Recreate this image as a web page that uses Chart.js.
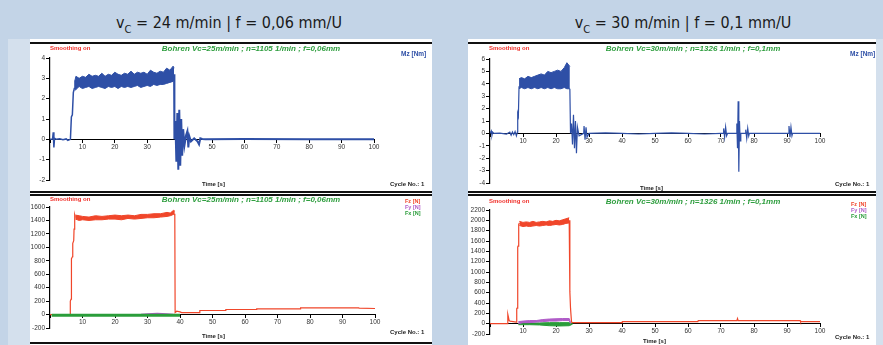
<!DOCTYPE html>
<html>
<head>
<meta charset="utf-8">
<script src="https://cdn.jsdelivr.net/npm/chart.js@4.4.1/dist/chart.umd.min.js"></script>
<style>
    body { margin: 0; width: 883px; height: 345px; background: #c3d4e7; position: relative; overflow: hidden; font-family: Arial, "Liberation Sans", sans-serif; }
    .strip { position: absolute; background: #d4e0ed; }
    .panel { position: absolute; background: #fff; }
    .rule { position: absolute; background: #111; height: 1.5px; }
    .hd { position: absolute; font-family: "Liberation Sans Narrow", "DejaVu Sans Condensed", sans-serif; font-size: 16px; color: #1a1a1a; white-space: nowrap; text-align: center; line-height: 1; }
    .hd sub { font-size: 11px; vertical-align: -5px; }
    .t { position: absolute; white-space: nowrap; font-weight: bold; line-height: 1; }
    .ttl { color: #2f9e3f; font-style: italic; font-size: 8px; text-align: center; }
    .sm { color: #f0302a; font-size: 6px; }
    .mz { color: #2e4fa6; font-size: 6.5px; }
    .ax { color: #222; font-size: 6px; }
    canvas { position: absolute; }
</style>
</head>
<body>
<div class="strip" style="left:8px;top:39px;width:22px;height:306px"></div>
<div class="strip" style="left:876px;top:39px;width:7px;height:306px"></div>
<div class="panel" style="left:30px;top:39px;width:402px;height:306px"></div>
<div class="panel" style="left:468px;top:39px;width:408px;height:306px"></div>

<div class="rule" style="left:30px;top:42px;width:402px"></div>
<div class="rule" style="left:30px;top:191px;width:402px"></div>
<div class="rule" style="left:30px;top:194px;width:402px"></div>
<div class="rule" style="left:30px;top:342px;width:402px"></div>
<div class="rule" style="left:468px;top:42px;width:408px"></div>
<div class="rule" style="left:468px;top:191px;width:408px"></div>
<div class="rule" style="left:468px;top:194px;width:408px"></div>

<div class="hd" style="left:79px;top:15px;width:300px">v<sub>C</sub> = 24 m/min | f = 0,06 mm/U</div>
<div class="hd" style="left:533px;top:15px;width:300px">v<sub>C</sub> = 30 m/min | f = 0,1 mm/U</div>

<canvas id="mzA" width="402" height="148" style="left:30px;top:44px"></canvas>
<canvas id="mzB" width="408" height="148" style="left:468px;top:44px"></canvas>
<canvas id="fA" width="402" height="147" style="left:30px;top:196px"></canvas>
<canvas id="fB" width="408" height="149" style="left:468px;top:196px"></canvas>

<!-- top left labels -->
<div class="t sm" style="left:50px;top:45px">Smoothing on</div>
<div class="t ttl" style="left:131px;top:45px;width:240px">Bohren Vc=25m/min ; n=1105 1/min ; f=0,06mm</div>
<div class="t mz" style="left:401px;top:51px">Mz [Nm]</div>
<div class="t ax" style="left:202px;top:181px">Time [s]</div>
<div class="t ax" style="left:390px;top:181px">Cycle No.: 1</div>
<!-- top right labels -->
<div class="t sm" style="left:489px;top:45px">Smoothing on</div>
<div class="t ttl" style="left:573px;top:45px;width:240px">Bohren Vc=30m/min ; n=1326 1/min ; f=0,1mm</div>
<div class="t mz" style="left:850px;top:51px">Mz [Nm]</div>
<div class="t ax" style="left:640px;top:185px">Time [s]</div>
<div class="t ax" style="left:835px;top:181px">Cycle No.: 1</div>
<!-- bottom left labels -->
<div class="t sm" style="left:50px;top:196px">Smoothing on</div>
<div class="t ttl" style="left:131px;top:196px;width:240px">Bohren Vc=25m/min ; n=1105 1/min ; f=0,06mm</div>
<div class="t" style="left:405px;top:199px;font-size:5.5px;color:#f0462a">Fz [N]</div>
<div class="t" style="left:405px;top:205px;font-size:5.5px;color:#b05cc8">Fy [N]</div>
<div class="t" style="left:405px;top:211px;font-size:5.5px;color:#2a9d3a">Fx [N]</div>
<div class="t ax" style="left:202px;top:333px">Time [s]</div>
<div class="t ax" style="left:390px;top:329px">Cycle No.: 1</div>
<!-- bottom right labels -->
<div class="t sm" style="left:489px;top:198px">Smoothing on</div>
<div class="t ttl" style="left:573px;top:198px;width:240px">Bohren Vc=30m/min ; n=1326 1/min ; f=0,1mm</div>
<div class="t" style="left:851px;top:202px;font-size:5.5px;color:#f0462a">Fz [N]</div>
<div class="t" style="left:851px;top:208px;font-size:5.5px;color:#b05cc8">Fy [N]</div>
<div class="t" style="left:851px;top:214px;font-size:5.5px;color:#2a9d3a">Fx [N]</div>
<div class="t ax" style="left:643px;top:338px">Time [s]</div>
<div class="t ax" style="left:835px;top:334px">Cycle No.: 1</div>

<script>
// ---- Mz, vc = 24 m/min (top left) ----
const mzA_preT  = [0, 0.8, 1.0, 1.2, 1.4, 2, 3, 4, 5, 5.5, 6.3, 6.6, 6.9, 7.2, 7.5, 7.7];
const mzA_preV  = [0, 0.02, 0.35, -0.4, 0.05, 0, 0.03, -0.02, 0.02, -0.05, 0, 1.1, 1.2, 2.3, 2.5, 2.9];
const mzA_bandT = [7.7, 8, 9, 10, 11, 12, 13, 14, 15, 16, 17, 18, 19, 20, 21, 22, 23, 24, 25, 26, 27, 28, 29, 30, 31, 32, 33, 34, 35, 36, 37, 38, 38.3];
const mzA_hi    = [2.9, 3.1, 3.0, 3.1, 3.05, 3.2, 3.1, 3.15, 3.1, 3.25, 3.1, 3.2, 3.15, 3.3, 3.2, 3.15, 3.25, 3.2, 3.35, 3.2, 3.3, 3.25, 3.3, 3.2, 3.4, 3.3, 3.25, 3.35, 3.3, 3.5, 3.4, 3.6, 3.5];
const mzA_lo    = [2.4, 2.45, 2.6, 2.5, 2.55, 2.6, 2.5, 2.55, 2.6, 2.55, 2.5, 2.6, 2.55, 2.6, 2.5, 2.6, 2.55, 2.6, 2.55, 2.6, 2.65, 2.55, 2.6, 2.65, 2.6, 2.7, 2.65, 2.7, 2.7, 2.75, 2.8, 2.85, 2.9];
const mzA_postT = [38.3, 38.4, 38.7, 39.0, 39.3, 39.6, 39.9, 40.2, 40.5, 40.8, 41.1, 41.5, 42.0, 42.4, 42.7, 43.0, 43.5, 44.5, 45.5, 46.0, 46.4, 47, 48, 60, 80, 100];
const mzA_postV = [3.2, 0, 0.9, -1.1, 1.3, -1.5, 1.45, -1.3, 1.0, -0.8, 0.5, -0.3, 0.2, 0.4, -0.4, 0.15, -0.1, 0.05, -0.1, -0.25, 0.05, 0.02, 0, 0.02, 0, 0];

// ---- Mz, vc = 30 m/min (top right) ----
const mzB_preT  = [0, 0.4, 0.6, 0.8, 1.2, 3, 5, 6, 6.4, 6.8, 7.2, 7.6, 8.0, 8.3, 8.4, 8.6, 8.8];
const mzB_preV  = [0, 0.2, -0.15, 0.1, 0, 0.02, -0.05, 0.1, -0.15, 0.12, -0.1, 0.15, -0.2, 0.1, 1.6, 1.4, 3.8];
const mzB_bandT = [8.8, 9.5, 10.5, 11.5, 12.5, 13.5, 14.5, 15.5, 16.5, 17.5, 18.5, 19.5, 20.5, 21.5, 22.5, 23.3, 24.2];
const mzB_hi    = [4.4, 4.5, 4.4, 4.6, 4.5, 4.6, 4.7, 4.8, 4.7, 5.0, 4.9, 5.0, 5.1, 5.0, 5.3, 5.7, 5.4];
const mzB_lo    = [3.6, 3.7, 3.6, 3.7, 3.6, 3.7, 3.6, 3.7, 3.6, 3.7, 3.6, 3.7, 3.6, 3.6, 3.7, 3.6, 3.6];
const mzB_postT = [24.2, 24.4, 24.7, 25.0, 25.3, 25.6, 25.9, 26.2, 26.5, 27, 28.4, 28.5, 28.8, 29.1, 29.4, 30, 35, 40, 45, 50, 55, 60, 65, 70,
                   70.7, 70.8, 71.1, 71.4, 71.7, 72, 74.7, 74.8, 75.0, 75.2, 75.4, 75.6, 75.8, 76.0, 77.4, 77.5, 77.8, 78.1, 78.4, 78.6, 85,
                   90.5, 90.6, 90.9, 91.2, 91.5, 91.7, 100];
const mzB_postV = [3.6, 0, 0.8, -0.9, 1.5, -1.2, 1.0, -1.6, 0.5, -0.2, 0, 0.6, -0.5, 0.5, -0.3, 0, 0.05, 0, -0.05, 0, 0.05, 0, -0.05, 0,
                   0, 0.4, -0.3, 0.5, -0.2, 0, 0, 0.8, -1.2, 2.6, -3.1, 1.0, -0.6, 0, 0, 0.3, -0.4, 0.4, -0.2, 0, 0,
                   0, 0.6, -0.3, 0.5, -0.2, 0, 0];

// ---- Forces, vc = 24 m/min (bottom left) ----
const fzA_preT  = [0, 6.2, 6.25, 6.5, 6.6, 6.9, 7.0, 7.3, 7.4, 7.6, 7.8];
const fzA_preV  = [0, 0, 200, 230, 830, 860, 1060, 1100, 1270, 1480, 1440];
const fzA_bandT = [7.8, 9, 10, 12, 14, 16, 18, 20, 22, 24, 26, 28, 30, 32, 34, 36, 37, 38, 38.4];
const fzA_hi    = [1480, 1470, 1460, 1450, 1470, 1460, 1470, 1480, 1470, 1480, 1470, 1490, 1490, 1500, 1500, 1520, 1510, 1550, 1540];
const fzA_lo    = [1420, 1400, 1410, 1400, 1410, 1410, 1420, 1420, 1410, 1430, 1420, 1430, 1440, 1440, 1450, 1460, 1470, 1490, 1480];
const fzA_postT = [38.4, 38.5, 39, 40, 40.5, 46, 46.1, 54, 54.1, 63.5, 63.6, 77, 77.1, 95, 95.1, 100];
const fzA_postV = [1500, 30, 50, 40, 30, 30, 60, 60, 75, 75, 85, 85, 100, 100, 95, 90];
const fyA_t = [28, 30, 33, 36, 38];
const fyA_v = [0, 10, 15, 10, 0];
const fxA_t = [0.5, 10, 20, 30, 40];
const fxA_v = [-10, -12, -10, -12, -10];

// ---- Forces, vc = 30 m/min (bottom right) ----
const fzB_preT  = [0, 5.3, 5.4, 5.6, 5.8, 6.0, 7.0, 8.0, 8.1, 8.2, 8.4, 8.5, 8.7, 8.9];
const fzB_preV  = [0, 0, 180, 120, 60, 50, 40, 30, 290, 300, 1480, 1500, 1920, 1950];
const fzB_bandT = [8.9, 10, 11, 12, 13, 14, 15, 16, 17, 18, 19, 20, 21, 22, 23, 24];
const fzB_hi    = [1980, 1960, 1970, 1960, 1980, 1960, 1970, 1980, 1970, 1990, 1980, 2000, 1990, 2010, 2030, 2050];
const fzB_lo    = [1900, 1880, 1890, 1880, 1890, 1900, 1890, 1900, 1910, 1900, 1910, 1920, 1910, 1920, 1940, 1950];
const fzB_postT = [24, 24.2, 24.4, 24.7, 25, 30, 38, 40, 40.1, 63, 63.1, 74.8, 75, 75.2, 94, 94.1, 100];
const fzB_postV = [2000, 620, 300, 30, 20, 20, 20, 20, 40, 40, 60, 60, 100, 60, 60, 40, 40];
const fyB_bandT = [8.6, 10, 12, 14, 16, 18, 20, 22, 24, 24.4];
const fyB_hi    = [40, 50, 60, 60, 80, 90, 95, 100, 100, 20];
const fyB_lo    = [0, 20, 20, 30, 40, 50, 50, 60, 60, 0];
const fxB_bandT = [8.6, 12, 15, 18, 21, 24, 25];
const fxB_hi    = [10, 10, 15, 20, 20, 20, 0];
const fxB_lo    = [-20, -20, -25, -40, -45, -40, -10];

const BLUE = '#2e4fa6', RED = '#f0462a', PURPLE = '#b05cc8', GREEN = '#2a9d3a';

function pts(t, v) {
    return t.map((x, i) => ({ x: x, y: v[i] }));
}

function line(t, v, color, width) {
    return { data: pts(t, v), borderColor: color, borderWidth: width, pointRadius: 0, fill: false, tension: 0 };
}

// upper + lower edge of a dense noise band, filled between
function band(t, hi, lo, color) {
    return [
        { data: pts(t, hi), borderColor: color, backgroundColor: color, borderWidth: 1, pointRadius: 0, fill: '+1', tension: 0 },
        { data: pts(t, lo), borderColor: color, borderWidth: 1, pointRadius: 0, fill: false, tension: 0 }
    ];
}

function makeChart(id, datasets, yMin, yMax, yStep, yWidth, pad) {
    const tickFont = { size: 6.5, family: 'Arial, "Liberation Sans", sans-serif' };
    return new Chart(document.getElementById(id), {
        type: 'line',
        data: { datasets: datasets },
        options: {
            responsive: false,
            animation: false,
            events: [],
            layout: { padding: pad },
            plugins: { legend: { display: false }, tooltip: { enabled: false } },
            scales: {
                x: {
                    type: 'linear',
                    min: 0,
                    max: 100,
                    position: { y: 0 },
                    ticks: {
                        stepSize: 10,
                        color: '#333',
                        font: tickFont,
                        padding: 1,
                        maxRotation: 0,
                        autoSkip: false,
                        callback: v => (v === 0 ? '' : String(v))
                    },
                    grid: { drawOnChartArea: false, tickLength: 3, color: '#000' },
                    border: { color: '#000', width: 1 }
                },
                y: {
                    min: yMin,
                    max: yMax,
                    ticks: { stepSize: yStep, color: '#333', font: tickFont, padding: 1, autoSkip: false, callback: v => String(v) },
                    grid: { drawOnChartArea: false, tickLength: 4, color: '#000' },
                    border: { color: '#000', width: 1.2 },
                    afterFit: s => { s.width = yWidth; }
                }
            }
        }
    });
}

makeChart('mzA', [
    line(mzA_preT, mzA_preV, BLUE, 1.5),
    ...band(mzA_bandT, mzA_hi, mzA_lo, BLUE),
    line(mzA_postT, mzA_postV, BLUE, 2)
], -2, 4, 1, 20, { top: 14, bottom: 12, left: 0, right: 58 });

makeChart('mzB', [
    line(mzB_preT, mzB_preV, BLUE, 1.2),
    ...band(mzB_bandT, mzB_hi, mzB_lo, BLUE),
    line(mzB_postT, mzB_postV, BLUE, 1.2)
], -4, 6, 1, 22, { top: 15, bottom: 9, left: 0, right: 56 });

makeChart('fA', [
    line(fxA_t, fxA_v, GREEN, 3),
    line(fyA_t, fyA_v, PURPLE, 1.5),
    line(fzA_preT, fzA_preV, RED, 1.2),
    ...band(fzA_bandT, fzA_hi, fzA_lo, RED),
    line(fzA_postT, fzA_postV, RED, 1.2)
], -200, 1600, 200, 20, { top: 11, bottom: 15, left: 0, right: 57 });

makeChart('fB', [
    ...band(fyB_bandT, fyB_hi, fyB_lo, PURPLE),
    ...band(fxB_bandT, fxB_hi, fxB_lo, GREEN),
    line(fzB_preT, fzB_preV, RED, 1.2),
    ...band(fzB_bandT, fzB_hi, fzB_lo, RED),
    line(fzB_postT, fzB_postV, RED, 1.2)
], -200, 2200, 200, 22, { top: 14, bottom: 11, left: 0, right: 56 });
</script>
</body>
</html>
